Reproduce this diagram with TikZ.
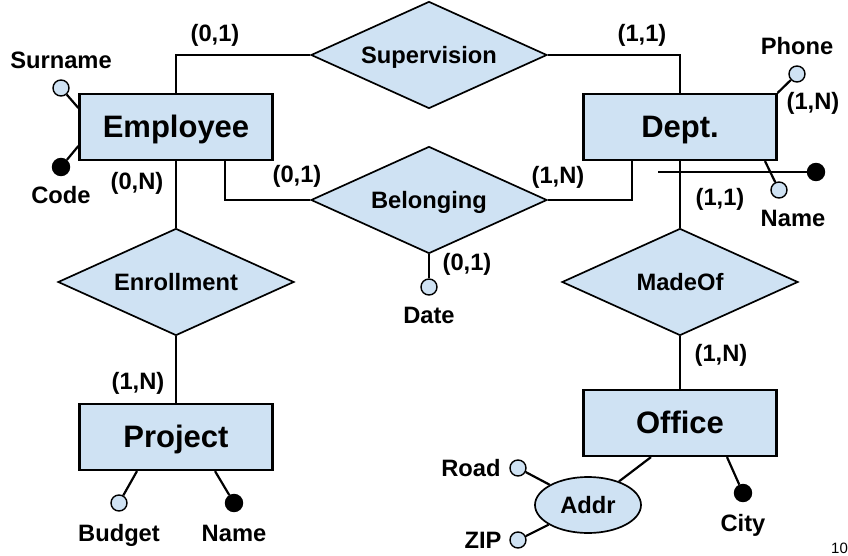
\documentclass[tikz,border=0pt]{standalone}
\usepackage{fontspec}
\setmainfont{Liberation Sans}
\usetikzlibrary{positioning,shapes.geometric}

\definecolor{erblue}{RGB}{207,226,243}
\newcommand{\erbig}{\fontsize{31}{37}\selectfont\bfseries}
\newcommand{\ersmall}{\fontsize{23.7}{28}\selectfont\bfseries}

\tikzstyle{entity} = [rectangle, minimum width=193pt, minimum height=66pt, text centered, text height=21.5pt, text depth=0pt, draw=black, line width=2.2pt, fill=erblue, font=\erbig]
\tikzstyle{relation} = [diamond, aspect=2.2, minimum width=236pt, minimum height=107pt, inner sep=0pt, text height=16.5pt, text depth=0pt, draw=black, line width=1.7pt, fill=erblue, font=\ersmall]
\tikzstyle{composite} = [ellipse, minimum width=106pt, minimum height=56pt, inner sep=0pt, text height=16.5pt, text depth=0pt, draw=black, line width=1.7pt, fill=erblue, font=\ersmall]
\tikzstyle{attr} = [circle, minimum size=16pt, inner sep=0pt, draw=black, line width=1.4pt, fill=erblue]
\tikzstyle{keyattr} = [attr, minimum size=17pt, fill=black]
\tikzstyle{lbl} = [node distance=28pt, inner sep=0pt, text height=17pt, text depth=0pt, font=\ersmall]
\tikzstyle{card} = [inner sep=0pt, font=\ersmall]
\tikzstyle{conn} = [line width=2.2pt]

\begin{document}
\begin{tikzpicture}[x=1pt, y=1pt, node distance=155pt]
  \path [use as bounding box, clip] (-176,-429) rectangle (672,127);

  \node (emp) [entity] {Employee};
  \node (dept) [entity, right of=emp, xshift=349pt] {Dept.};
  \node (enroll) [relation, below of=emp] {Enrollment};
  \node (proj) [entity, below of=enroll] {Project};
  \node (super) [relation, right of=emp, xshift=98pt, yshift=72pt] {Supervision};
  \node (belong) [relation, below of=super, yshift=10pt] {Belonging};
  \node (madeof) [relation, below of=dept] {MadeOf};
  \node (office) [entity, below of=madeof, yshift=14pt] {Office};
  \node (addr) [composite, below of=office, xshift=-92pt, yshift=73pt] {Addr};

  \node (sur) [attr, left of=emp, xshift=40pt, yshift=39pt] {};
  \node (code) [keyattr, left of=emp, xshift=40pt, yshift=-40pt] {};
  \node (phone) [attr, right of=dept, xshift=-38pt, yshift=53pt] {};
  \node (dname) [attr, right of=dept, xshift=-56pt, yshift=-63pt] {};
  \node (dkey) [keyattr, right of=dept, xshift=-19pt, yshift=-45pt] {};
  \coordinate (idbar) at ([xshift=-22pt, yshift=-45pt]dept.center);
  \node (date) [attr, below of=belong, yshift=68pt] {};
  \node (budget) [attr, below of=proj, xshift=-57pt, yshift=89pt] {};
  \node (pname) [keyattr, below of=proj, xshift=58pt, yshift=89pt] {};
  \node (road) [attr, left of=addr, xshift=85pt, yshift=37pt] {};
  \node (zip) [attr, left of=addr, xshift=85pt, yshift=-35pt] {};
  \node (city) [keyattr, below of=office, xshift=63pt, yshift=85pt] {};

  \node (sur_t) [lbl, above of=sur] {Surname};
  \node (code_t) [lbl, below of=code] {Code};
  \node (phone_t) [lbl, above of=phone] {Phone};
  \node (dname_t) [lbl, below of=dname, xshift=14pt] {Name};
  \node (date_t) [lbl, below of=date] {Date};
  \node (budget_t) [lbl, below of=budget, yshift=-2pt] {Budget};
  \node (pname_t) [lbl, below of=pname, yshift=-2pt] {Name};
  \node (road_t) [lbl, left of=road, xshift=-19pt] {Road};
  \node (zip_t) [lbl, left of=zip, xshift=-7pt] {ZIP};
  \node (city_t) [lbl, below of=city, yshift=-2pt] {City};

  \node (c_sup_emp) [card, above of=emp, xshift=39pt, yshift=-63pt] {(0,1)};
  \node (c_sup_dept) [card, above of=dept, xshift=-38pt, yshift=-63pt] {(1,1)};
  \node (c_bel_emp) [card, right of=emp, xshift=-34pt, yshift=-49pt] {(0,1)};
  \node (c_bel_dept) [card, left of=dept, xshift=33pt, yshift=-50pt] {(1,N)};
  \node (c_enr_emp) [card, below of=emp, xshift=-39pt, yshift=99pt] {(0,N)};
  \node (c_enr_proj) [card, above of=proj, xshift=-38pt, yshift=-101pt] {(1,N)};
  \node (c_mad_dept) [card, below of=dept, xshift=40pt, yshift=83pt] {(1,1)};
  \node (c_mad_off) [card, above of=office, xshift=41pt, yshift=-87pt] {(1,N)};
  \node (c_phone) [card, right of=dept, xshift=-22pt, yshift=24pt] {(1,N)};
  \node (c_date) [card, below of=belong, xshift=38pt, yshift=91pt] {(0,1)};

  \node (pagenum) [anchor=north west, inner sep=0pt, font=\fontsize{15}{18}\selectfont] at (655,-416) {10};

  \draw [conn] (emp.north) |- (super.west);
  \draw [conn] (super.east) -| (dept.north);
  \draw [conn] ([xshift=49pt]emp.south) |- (belong.west);
  \draw [conn] (belong.east) -| ([xshift=-48pt]dept.south);
  \draw [conn] (emp) -- (enroll);
  \draw [conn] (enroll) -- (proj);
  \draw [conn] (dept) -- (madeof);
  \draw [conn] (madeof) -- (office);
  \draw [conn] (belong) -- (date);
  \draw [conn] (sur) -- (emp.169);
  \draw [conn] (code) -- (emp.191);
  \draw [conn] (phone) -- (dept.north east);
  \draw [conn] (dname) -- ([xshift=85pt]dept.south);
  \draw [conn] (idbar) -- (dkey);
  \draw [conn] (budget) -- ([xshift=-39pt]proj.south);
  \draw [conn] (pname) -- ([xshift=39pt]proj.south);
  \draw [conn] (addr) -- ([xshift=-29pt]office.south);
  \draw [conn] (road) -- (addr);
  \draw [conn] (zip) -- (addr);
  \draw [conn] (city) -- ([xshift=47pt]office.south);
\end{tikzpicture}
\end{document}
